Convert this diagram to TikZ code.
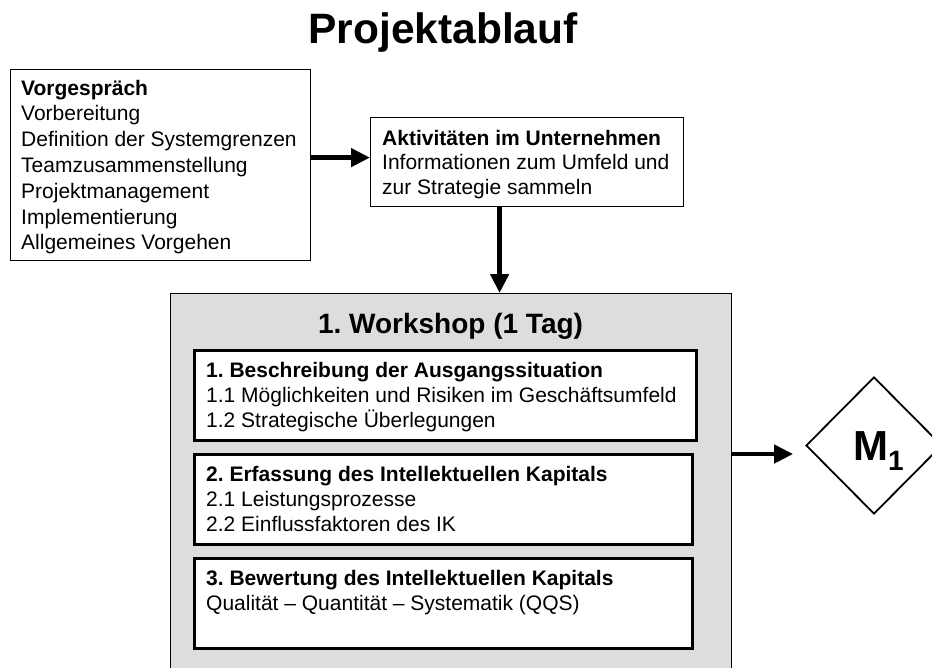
\documentclass[tikz,border=0pt]{standalone}
\usepackage{fontspec}
\setmainfont{Liberation Sans}
\usetikzlibrary{arrows.meta,shapes.geometric}
\definecolor{panelgray}{HTML}{DDDDDD}
\frenchspacing
\begin{document}
\begin{tikzpicture}[x=1pt,y=-1pt,
  box/.style={draw=black,line width=1.2pt,fill=white,inner sep=0pt,anchor=north west},
  subbox/.style={draw=black,line width=3pt,fill=white,inner sep=0pt,anchor=north west},
  txt/.style={anchor=base west,inner sep=0pt,align=left,font=\fontsize{21}{25.8}\selectfont},
  arr/.style={line width=4.5pt,-{Triangle[length=19pt,width=18pt]}}]
\clip (0,0) rectangle (932,667);

% title
\node[anchor=base,inner sep=0pt,font=\fontsize{42.5}{45}\selectfont\bfseries] (title) at (443,43) {Projektablauf};

% preliminary talk (text nodes are placed by the baseline of their last line)
\node[box,minimum width=300pt,minimum height=191pt] (vg) at (10,69) {};
\node[txt] (vgtext) at (21,249.8) {{\bfseries Vorgespräch}\\Vorbereitung\\Definition der Systemgrenzen\\Teamzusammenstellung\\Projektmanagement\\Implementierung\\Allgemeines Vorgehen};

% activities in the company
\node[box,minimum width=313pt,minimum height=89pt] (akt) at (370,117) {};
\node[txt,font=\fontsize{21}{24.5}\selectfont] (akttext) at (382,194) {{\bfseries Aktivitäten im Unternehmen}\\Informationen zum Umfeld und\\zur Strategie sammeln};

% workshop panel
\node[box,fill=panelgray,minimum width=561pt,minimum height=407pt] (ws) at (170,293) {};
\node[anchor=base,inner sep=0pt,font=\fontsize{28}{30}\selectfont\bfseries] (wstitle) at (450.5,333) {1. Workshop (1 Tag)};

\node[subbox,minimum width=502pt,minimum height=90pt] (sa) at (193,349) {};
\node[txt,font=\fontsize{21}{25}\selectfont] (satext) at (206,427) {{\bfseries 1. Beschreibung der Ausgangssituation}\\1.1 Möglichkeiten und Risiken im Geschäftsumfeld\\1.2 Strategische Überlegungen};

\node[subbox,minimum width=498pt,minimum height=90pt] (sb) at (193,453) {};
\node[txt,font=\fontsize{21}{25}\selectfont] (sbtext) at (206,531) {{\bfseries 2. Erfassung des Intellektuellen Kapitals}\\2.1 Leistungsprozesse\\2.2 Einflussfaktoren des IK};

\node[subbox,minimum width=498pt,minimum height=90pt] (sc) at (193,557) {};
\node[txt,font=\fontsize{21}{25}\selectfont] (sctext) at (206,610) {{\bfseries 3. Bewertung des Intellektuellen Kapitals}\\Qualität -- Quantität -- Systematik (QQS)};

% milestone
\node[draw=black,line width=1.8pt,diamond,inner sep=0pt,minimum width=136pt,minimum height=137pt] (m1) at (874,445.5) {};
\node[anchor=base west,inner sep=0pt,font=\fontsize{42}{44}\selectfont\bfseries] (m1label) at (853,460) {M\raisebox{-10pt}{\fontsize{28}{28}\selectfont 1}};

% connectors
\coordinate (p1) at ([yshift=7.5pt]vg.east);
\draw[arr] (p1) -- (p1 -| akt.west);
\coordinate (p2) at ([xshift=-27.5pt]akt.south);
\draw[arr] (p2) -- (p2 |- ws.north);
\coordinate (p3) at ([yshift=-161pt]ws.north east);
\draw[arr,shorten >=12pt] (p3) -- (p3 -| m1.west);
\end{tikzpicture}
\end{document}
